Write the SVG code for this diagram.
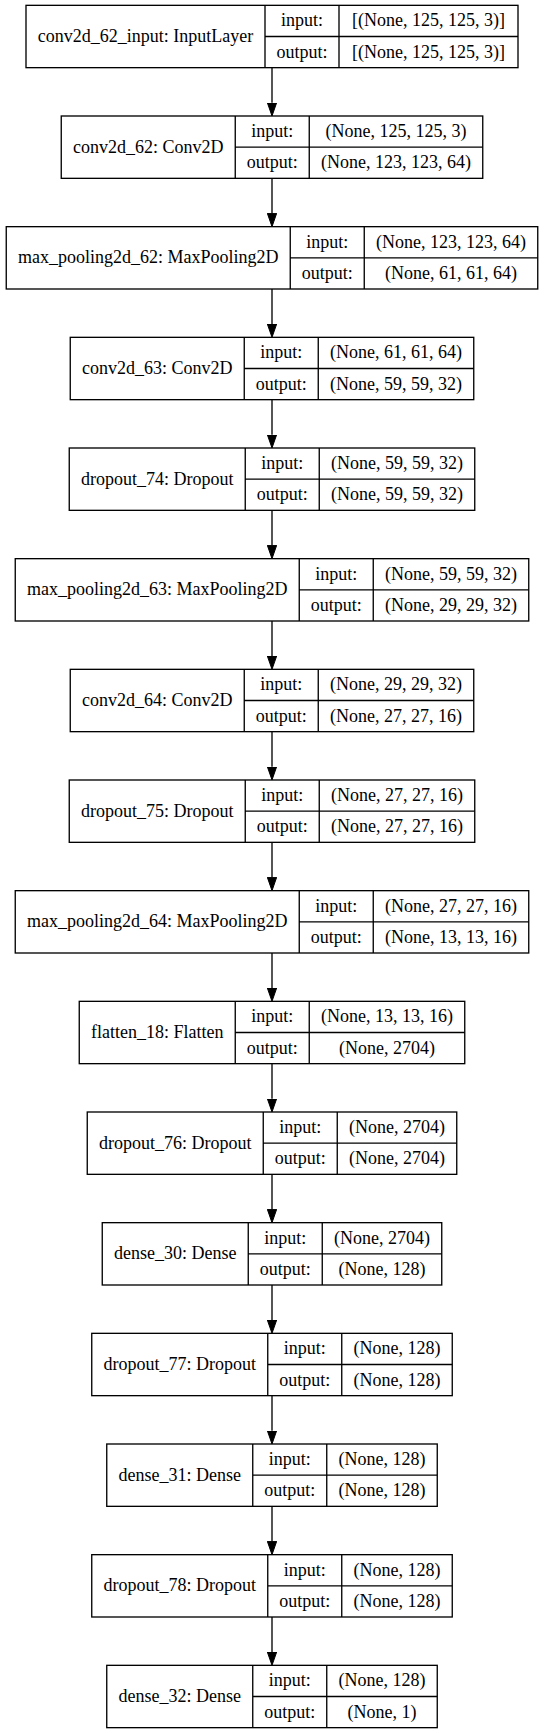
<svg xmlns="http://www.w3.org/2000/svg" width="544" height="1733" viewBox="0 0 544 1733">
<style>
.bx{fill:#fff;stroke:#000;stroke-width:1.33}
.ln{stroke:#000;stroke-width:1.33;fill:none}
text{font-size:18px;fill:#000;text-anchor:middle}
.e{stroke:#000;stroke-width:1.33;fill:none;marker-end:url(#ah)}
</style>
<defs>
<marker id="ah" markerUnits="userSpaceOnUse" markerWidth="14" markerHeight="10" refX="0" refY="4.67" orient="auto" viewBox="0 0 14 9.34">
<path d="M0,0 L13.33,4.67 L0,9.34 z" fill="#000" stroke="#000" stroke-width="1"/>
</marker>
</defs>
<rect x="0" y="0" width="544" height="1733" fill="#fff"/>
<g id="connectors">
<line class="e" x1="272" y1="67.67" x2="272" y2="102.67"/>
<line class="e" x1="272" y1="178.33" x2="272" y2="213.33"/>
<line class="e" x1="272" y1="289" x2="272" y2="324"/>
<line class="e" x1="272" y1="399.67" x2="272" y2="434.67"/>
<line class="e" x1="272" y1="510.33" x2="272" y2="545.33"/>
<line class="e" x1="272" y1="621" x2="272" y2="656"/>
<line class="e" x1="272" y1="731.67" x2="272" y2="766.67"/>
<line class="e" x1="272" y1="842.33" x2="272" y2="877.33"/>
<line class="e" x1="272" y1="953" x2="272" y2="988"/>
<line class="e" x1="272" y1="1063.67" x2="272" y2="1098.67"/>
<line class="e" x1="272" y1="1174.33" x2="272" y2="1209.33"/>
<line class="e" x1="272" y1="1285" x2="272" y2="1320"/>
<line class="e" x1="272" y1="1395.67" x2="272" y2="1430.67"/>
<line class="e" x1="272" y1="1506.33" x2="272" y2="1541.33"/>
<line class="e" x1="272" y1="1617" x2="272" y2="1652"/>
</g>
<g font-family="'Liberation Serif', 'Times New Roman', Times, serif">
<g id="conv2d_62_input" transform="translate(26,5.33)">
<rect class="bx" x="0" y="0" width="492" height="62.33"/>
<path class="ln" d="M239,0V62.33M313,0V62.33M239,31.17H492"/>
<text x="119.5" y="36.7">conv2d_62_input: InputLayer</text>
<text x="276" y="21.1">input:</text><text x="276" y="52.25">output:</text>
<text x="402.5" y="21.1">[(None, 125, 125, 3)]</text><text x="402.5" y="52.25">[(None, 125, 125, 3)]</text>
</g>
<g id="conv2d_62" transform="translate(61.25,116)">
<rect class="bx" x="0" y="0" width="421.5" height="62.33"/>
<path class="ln" d="M174,0V62.33M248,0V62.33M174,31.17H421.5"/>
<text x="87" y="36.7">conv2d_62: Conv2D</text>
<text x="211" y="21.1">input:</text><text x="211" y="52.25">output:</text>
<text x="334.75" y="21.1">(None, 125, 125, 3)</text><text x="334.75" y="52.25">(None, 123, 123, 64)</text>
</g>
<g id="max_pooling2d_62" transform="translate(6.25,226.67)">
<rect class="bx" x="0" y="0" width="531.5" height="62.33"/>
<path class="ln" d="M284,0V62.33M358,0V62.33M284,31.17H531.5"/>
<text x="142" y="36.7">max_pooling2d_62: MaxPooling2D</text>
<text x="321" y="21.1">input:</text><text x="321" y="52.25">output:</text>
<text x="444.75" y="21.1">(None, 123, 123, 64)</text><text x="444.75" y="52.25">(None, 61, 61, 64)</text>
</g>
<g id="conv2d_63" transform="translate(70.25,337.33)">
<rect class="bx" x="0" y="0" width="403.5" height="62.33"/>
<path class="ln" d="M174,0V62.33M248,0V62.33M174,31.17H403.5"/>
<text x="87" y="36.7">conv2d_63: Conv2D</text>
<text x="211" y="21.1">input:</text><text x="211" y="52.25">output:</text>
<text x="325.75" y="21.1">(None, 61, 61, 64)</text><text x="325.75" y="52.25">(None, 59, 59, 32)</text>
</g>
<g id="dropout_74" transform="translate(69.25,448)">
<rect class="bx" x="0" y="0" width="405.5" height="62.33"/>
<path class="ln" d="M176,0V62.33M250,0V62.33M176,31.17H405.5"/>
<text x="88" y="36.7">dropout_74: Dropout</text>
<text x="213" y="21.1">input:</text><text x="213" y="52.25">output:</text>
<text x="327.75" y="21.1">(None, 59, 59, 32)</text><text x="327.75" y="52.25">(None, 59, 59, 32)</text>
</g>
<g id="max_pooling2d_63" transform="translate(15.25,558.67)">
<rect class="bx" x="0" y="0" width="513.5" height="62.33"/>
<path class="ln" d="M284,0V62.33M358,0V62.33M284,31.17H513.5"/>
<text x="142" y="36.7">max_pooling2d_63: MaxPooling2D</text>
<text x="321" y="21.1">input:</text><text x="321" y="52.25">output:</text>
<text x="435.75" y="21.1">(None, 59, 59, 32)</text><text x="435.75" y="52.25">(None, 29, 29, 32)</text>
</g>
<g id="conv2d_64" transform="translate(70.25,669.33)">
<rect class="bx" x="0" y="0" width="403.5" height="62.33"/>
<path class="ln" d="M174,0V62.33M248,0V62.33M174,31.17H403.5"/>
<text x="87" y="36.7">conv2d_64: Conv2D</text>
<text x="211" y="21.1">input:</text><text x="211" y="52.25">output:</text>
<text x="325.75" y="21.1">(None, 29, 29, 32)</text><text x="325.75" y="52.25">(None, 27, 27, 16)</text>
</g>
<g id="dropout_75" transform="translate(69.25,780)">
<rect class="bx" x="0" y="0" width="405.5" height="62.33"/>
<path class="ln" d="M176,0V62.33M250,0V62.33M176,31.17H405.5"/>
<text x="88" y="36.7">dropout_75: Dropout</text>
<text x="213" y="21.1">input:</text><text x="213" y="52.25">output:</text>
<text x="327.75" y="21.1">(None, 27, 27, 16)</text><text x="327.75" y="52.25">(None, 27, 27, 16)</text>
</g>
<g id="max_pooling2d_64" transform="translate(15.25,890.67)">
<rect class="bx" x="0" y="0" width="513.5" height="62.33"/>
<path class="ln" d="M284,0V62.33M358,0V62.33M284,31.17H513.5"/>
<text x="142" y="36.7">max_pooling2d_64: MaxPooling2D</text>
<text x="321" y="21.1">input:</text><text x="321" y="52.25">output:</text>
<text x="435.75" y="21.1">(None, 27, 27, 16)</text><text x="435.75" y="52.25">(None, 13, 13, 16)</text>
</g>
<g id="flatten_18" transform="translate(79.25,1001.33)">
<rect class="bx" x="0" y="0" width="385.5" height="62.33"/>
<path class="ln" d="M156,0V62.33M230,0V62.33M156,31.17H385.5"/>
<text x="78" y="36.7">flatten_18: Flatten</text>
<text x="193" y="21.1">input:</text><text x="193" y="52.25">output:</text>
<text x="307.75" y="21.1">(None, 13, 13, 16)</text><text x="307.75" y="52.25">(None, 2704)</text>
</g>
<g id="dropout_76" transform="translate(87.25,1112)">
<rect class="bx" x="0" y="0" width="369.5" height="62.33"/>
<path class="ln" d="M176,0V62.33M250,0V62.33M176,31.17H369.5"/>
<text x="88" y="36.7">dropout_76: Dropout</text>
<text x="213" y="21.1">input:</text><text x="213" y="52.25">output:</text>
<text x="309.75" y="21.1">(None, 2704)</text><text x="309.75" y="52.25">(None, 2704)</text>
</g>
<g id="dense_30" transform="translate(102.25,1222.67)">
<rect class="bx" x="0" y="0" width="339.5" height="62.33"/>
<path class="ln" d="M146,0V62.33M220,0V62.33M146,31.17H339.5"/>
<text x="73" y="36.7">dense_30: Dense</text>
<text x="183" y="21.1">input:</text><text x="183" y="52.25">output:</text>
<text x="279.75" y="21.1">(None, 2704)</text><text x="279.75" y="52.25">(None, 128)</text>
</g>
<g id="dropout_77" transform="translate(91.75,1333.33)">
<rect class="bx" x="0" y="0" width="360.5" height="62.33"/>
<path class="ln" d="M176,0V62.33M250,0V62.33M176,31.17H360.5"/>
<text x="88" y="36.7">dropout_77: Dropout</text>
<text x="213" y="21.1">input:</text><text x="213" y="52.25">output:</text>
<text x="305.25" y="21.1">(None, 128)</text><text x="305.25" y="52.25">(None, 128)</text>
</g>
<g id="dense_31" transform="translate(106.75,1444)">
<rect class="bx" x="0" y="0" width="330.5" height="62.33"/>
<path class="ln" d="M146,0V62.33M220,0V62.33M146,31.17H330.5"/>
<text x="73" y="36.7">dense_31: Dense</text>
<text x="183" y="21.1">input:</text><text x="183" y="52.25">output:</text>
<text x="275.25" y="21.1">(None, 128)</text><text x="275.25" y="52.25">(None, 128)</text>
</g>
<g id="dropout_78" transform="translate(91.75,1554.67)">
<rect class="bx" x="0" y="0" width="360.5" height="62.33"/>
<path class="ln" d="M176,0V62.33M250,0V62.33M176,31.17H360.5"/>
<text x="88" y="36.7">dropout_78: Dropout</text>
<text x="213" y="21.1">input:</text><text x="213" y="52.25">output:</text>
<text x="305.25" y="21.1">(None, 128)</text><text x="305.25" y="52.25">(None, 128)</text>
</g>
<g id="dense_32" transform="translate(106.75,1665.33)">
<rect class="bx" x="0" y="0" width="330.5" height="62.33"/>
<path class="ln" d="M146,0V62.33M220,0V62.33M146,31.17H330.5"/>
<text x="73" y="36.7">dense_32: Dense</text>
<text x="183" y="21.1">input:</text><text x="183" y="52.25">output:</text>
<text x="275.25" y="21.1">(None, 128)</text><text x="275.25" y="52.25">(None, 1)</text>
</g>
</g>
</svg>
